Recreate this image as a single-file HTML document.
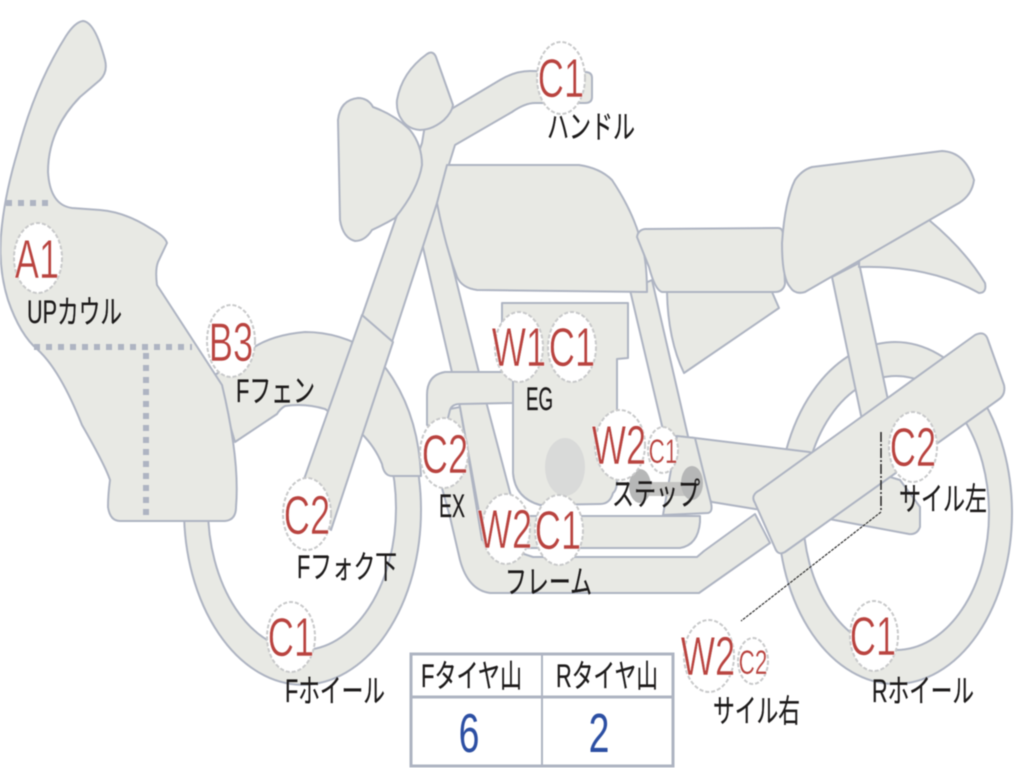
<!DOCTYPE html>
<html><head><meta charset="utf-8"><style>
html,body{margin:0;padding:0;background:#fff;width:1024px;height:768px;overflow:hidden}
svg{display:block;filter:blur(.45px)}
.s{fill:#e8e9e4;stroke:#aeb4c2;stroke-width:2;stroke-linejoin:round}
.b{fill:#fff;stroke:#c8c9ca;stroke-width:2;stroke-dasharray:4 2}
.r{font-family:"Liberation Sans",sans-serif;fill:#b9433f;font-size:55px;text-anchor:middle;stroke:#fff;stroke-width:.6}
.l{font-family:"Liberation Sans","Noto Sans CJK JP",sans-serif;fill:#1c1a1a;font-size:32px;stroke:#1c1a1a;stroke-width:.25}
.d{fill:none;stroke:#aeb4c2;stroke-width:6;stroke-dasharray:6 6}
</style></head><body>
<svg width="1024" height="768" viewBox="0 0 1024 768" xmlns="http://www.w3.org/2000/svg">
<!-- wheels -->
<path class="s" fill-rule="evenodd" d="M778 513a117 171 0 1 0 234 0a117 171 0 1 0 -234 0ZM803 513a93 137 0 1 1 186 0a93 137 0 1 1 -186 0Z"/>
<path class="s" fill-rule="evenodd" d="M184 510a118 174 0 1 0 237 0a118 174 0 1 0 -237 0ZM208 508a94 142 0 1 1 188 0a94 142 0 1 1 -188 0Z"/>
<!-- fender -->
<path class="s" d="M235 442L277 414Q280 409 285 406Q305 403 325 409L362 434Q375 447 382 464Q384 476 392 476L421 476Q418 400 372 352Q340 332 305 332Q270 335 250 350L215 375Z"/>
<!-- rear shock -->
<path class="s" d="M832 277L862 420L888 400L859 263Z"/>
<!-- tail -->
<path class="s" d="M859 267Q930 265 979 293Q987 293 985 283Q965 250 929 220L860 240Z"/>
<!-- rear frame strip -->
<path class="s" d="M630 290L663 430L690 445L652 280Z"/>
<!-- lower side cover -->
<path class="s" d="M667 292L772 292L779 308L684 373Q668 340 667 292Z"/>
<!-- swing plate -->
<path class="s" d="M675 436L695 438L809 452L900 480L920 507L920 527Q917 535 909 534L829 519L755 509L712 502L680 480Z"/>
<!-- frame bottom -->
<path class="s" d="M770 543L699 593L490 593Q468 590 460 560L450 517L437 470L445 410L460 407L482 540L533 557L697 557L704 551L755 514Z"/>
<!-- down tube -->
<path class="s" d="M422 243L437 203L487 405L512 500L485 545L460 407Z"/>
<!-- exhaust pipe small -->
<path class="s" d="M510 516L700 516L700 522Q698 545 680 548L510 548Z"/>
<!-- step plate -->
<path class="s" d="M663 515L708 513Q713 512 711 503L695 438L677 436Z"/>
<!-- step block -->
<rect x="636" y="482" width="60" height="14" fill="#c5c5c3"/>
<ellipse cx="640" cy="486" rx="11" ry="17" fill="#b6b7b7"/>
<ellipse cx="692" cy="483" rx="11" ry="17" fill="#b6b7b7"/>
<!-- engine -->
<path class="s" d="M502 303L628 303L628 358L617 359L617 480Q617 490 613 493Q610 504 600 504L540 505Q515 498 513 473L513 358L502 358Z"/>
<ellipse cx="565" cy="467" rx="20" ry="29" fill="#d9dad9"/>
<!-- exhaust upper -->
<path class="s" d="M513 372L445 372Q427 375 427 395L427 425L445 430L450 410Q452 404 460 404L513 403Z"/>
<!-- fairing -->
<path class="s" d="M83 21Q75 22 66 36Q35 85 18 150Q6 190 2 225Q-3 265 8 300Q20 335 38 350Q60 370 82 425Q105 465 110 480Q108 495 108 507Q110 521 120 521L225 521Q236 520 236 507Q240 460 222 385L157 285Q155 270 158 262L167 243Q165 236 150 228Q125 212 100 210L72 208Q50 205 48 172Q48 130 80 97L100 80Q108 72 105 60Q95 22 83 21Z"/>
<path class="d" d="M6 203H50"/>
<path class="d" d="M34 347H192"/>
<path class="d" d="M146 353V515"/>
<!-- upper fork and handlebar -->
<path class="s" d="M422 143L362 316L392 342L437 203L455 145L512 112Q525 103 535 103L585 103Q592 103 592 97L592 78Q592 72 585 72L530 71Q515 71 500 80L453 108L425 125Z"/>
<!-- lower fork -->
<path class="s" d="M362 315L393 342L331 530L302 485Z"/>
<!-- headlight -->
<path class="s" d="M358 98Q368 98 373 107Q395 115 410 130Q422 145 422 165Q418 190 395 218Q385 224 372 230Q365 241 355 241Q343 238 340 220L338 120Q340 100 358 98Z"/>
<!-- lamp -->
<path class="s" d="M427 54Q433 50 436 57L453 105Q452 112 444 120Q432 130 420 130Q408 129 402 120Q396 112 397 100Q402 72 427 54Z"/>
<!-- tank -->
<path class="s" d="M447 165L579 165Q600 168 612 180Q632 210 640 238Q647 258 647 292L477 290Q462 288 457 277Q445 245 437 203Z"/>
<!-- side cover -->
<path class="s" d="M645 229L778 228Q783 228 783 235L785 284Q783 292 775 292L662 292Q655 290 649 267L637 237Q638 230 645 229Z"/>
<!-- seat -->
<path class="s" d="M812 167L942 151Q965 152 974 180Q972 195 959 203L805 292Q795 295 790 287Q782 278 782 243Q785 200 795 180Q802 170 812 167Z"/>
<!-- muffler -->
<path class="s" d="M760 490L975 335Q985 330 988 340L1004 385Q1006 395 998 400L785 552Q778 556 775 548L755 503Q750 495 760 490Z"/>
<!-- leader -->
<path d="M881 432V512" fill="none" stroke="#222" stroke-width="1.5" stroke-dasharray="10 2 2 2"/>
<path d="M881 512L741 621" fill="none" stroke="#333" stroke-width="1.2" stroke-dasharray="3 1"/>
<!-- bubbles -->
<ellipse class="b" cx="38" cy="258" rx="24" ry="35"/>
<ellipse class="b" cx="231" cy="341" rx="24" ry="36"/>
<ellipse class="b" cx="561" cy="78" rx="24" ry="36"/>
<ellipse class="b" cx="519" cy="347" rx="24" ry="35"/>
<ellipse class="b" cx="572" cy="347" rx="24" ry="35"/>
<ellipse class="b" cx="620" cy="445" rx="25" ry="35"/>
<ellipse class="b" cx="663" cy="450" rx="15" ry="23"/>
<ellipse class="b" cx="444" cy="453" rx="24" ry="35"/>
<ellipse class="b" cx="506" cy="529" rx="24" ry="35"/>
<ellipse class="b" cx="559" cy="530" rx="24" ry="35"/>
<ellipse class="b" cx="307" cy="514" rx="24" ry="36"/>
<ellipse class="b" cx="291" cy="637" rx="24" ry="35"/>
<ellipse class="b" cx="913" cy="447" rx="24" ry="35"/>
<ellipse class="b" cx="709" cy="656" rx="25" ry="36"/>
<ellipse class="b" cx="753" cy="661" rx="15" ry="23"/>
<ellipse class="b" cx="874" cy="636" rx="24" ry="35"/>
<!-- bubble text -->
<g class="r">
<text transform="translate(37 278) scale(.66 1)">A1</text>
<text transform="translate(231 361) scale(.66 1)">B3</text>
<text transform="translate(561 97) scale(.66 1)">C1</text>
<text transform="translate(519 366) scale(.66 1)">W1</text>
<text transform="translate(572 366) scale(.66 1)">C1</text>
<text transform="translate(619 464) scale(.66 1)">W2</text>
<text transform="translate(445 473) scale(.66 1)">C2</text>
<text transform="translate(505 548) scale(.66 1)">W2</text>
<text transform="translate(558 549) scale(.66 1)">C1</text>
<text transform="translate(307 534) scale(.66 1)">C2</text>
<text transform="translate(291 656) scale(.66 1)">C1</text>
<text transform="translate(913 466) scale(.66 1)">C2</text>
<text transform="translate(708 675) scale(.66 1)">W2</text>
<text transform="translate(873 655) scale(.66 1)">C1</text>
<text transform="translate(663 463) scale(.66 1)" style="font-size:34px;stroke-width:.3">C1</text>
<text transform="translate(753 674) scale(.66 1)" style="font-size:34px;stroke-width:.3">C2</text>
</g>
<!-- labels -->
<g class="l">
<text x="27" y="323" textLength="95" lengthAdjust="spacingAndGlyphs">UPカウル</text>
<text x="547" y="138" textLength="88" lengthAdjust="spacingAndGlyphs">ハンドル</text>
<text x="236" y="402" textLength="79" lengthAdjust="spacingAndGlyphs">Fフェン</text>
<text x="526" y="410" textLength="27" lengthAdjust="spacingAndGlyphs">EG</text>
<text x="439" y="517" textLength="26" lengthAdjust="spacingAndGlyphs">EX</text>
<text x="612" y="505" textLength="88" lengthAdjust="spacingAndGlyphs">ステップ</text>
<text x="297" y="578" textLength="100" lengthAdjust="spacingAndGlyphs">Fフォク下</text>
<text x="285" y="702" textLength="100" lengthAdjust="spacingAndGlyphs">Fホイール</text>
<text x="505" y="593" textLength="87" lengthAdjust="spacingAndGlyphs">フレーム</text>
<text x="899" y="510" textLength="88" lengthAdjust="spacingAndGlyphs">サイル左</text>
<text x="713" y="722" textLength="87" lengthAdjust="spacingAndGlyphs">サイル右</text>
<text x="872" y="702" textLength="102" lengthAdjust="spacingAndGlyphs">Rホイール</text>
<text x="421" y="687" textLength="101" lengthAdjust="spacingAndGlyphs">Fタイヤ山</text>
<text x="556" y="687" textLength="102" lengthAdjust="spacingAndGlyphs">Rタイヤ山</text>
</g>
<!-- table -->
<rect x="411" y="654" width="262" height="112" fill="none" stroke="#aeb4c2" stroke-width="3"/>
<path d="M411 697H673" stroke="#aeb4c2" stroke-width="3" fill="none"/>
<path d="M542 654V766" stroke="#aeb4c2" stroke-width="2" fill="none"/>
<text transform="translate(469 752) scale(.68 1)" style="font-family:'Liberation Sans',sans-serif;font-size:55px;fill:#2c4fa3;text-anchor:middle">6</text>
<text transform="translate(599 752) scale(.68 1)" style="font-family:'Liberation Sans',sans-serif;font-size:55px;fill:#2c4fa3;text-anchor:middle">2</text>
</svg>
</body></html>
